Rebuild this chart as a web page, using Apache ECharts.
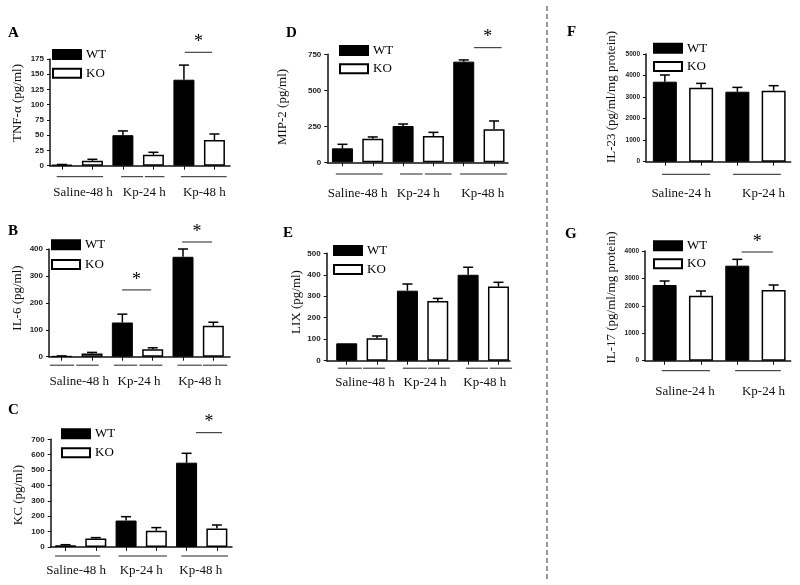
<!DOCTYPE html>
<html><head><meta charset="utf-8">
<script src="https://cdn.jsdelivr.net/npm/echarts@6/dist/echarts.min.js"></script>
<style>html,body{margin:0;padding:0;background:#fff}#c{width:800px;height:585px}</style>
</head><body><div id="c"></div>
<script>
// ---------- DATA ----------
const groups48 = ['Saline-48 h', 'Kp-24 h', 'Kp-48 h'];
const groups24 = ['Saline-24 h', 'Kp-24 h'];
const seriesNames = ['WT', 'KO'];

const tnfWT = [1.5, 50, 141];   const tnfWTErr = [0.5, 7, 24];
const tnfKO = [8, 18, 42];      const tnfKOErr = [2.5, 4, 10];
const tnfTicks = [0, 25, 50, 75, 100, 125, 150, 175];

const il6WT = [2, 127, 371];    const il6WTErr = [1, 31, 29];
const il6KO = [12, 28, 115];    const il6KOErr = [4, 5, 13];
const il6Ticks = [0, 100, 200, 300, 400];

const kcWT = [11, 172, 548];    const kcWTErr = [4, 25, 61];
const kcKO = [56, 106, 121];    const kcKOErr = [5, 20, 22];
const kcTicks = [0, 100, 200, 300, 400, 500, 600, 700];

const mipWT = [97, 252, 699];   const mipWTErr = [28, 14, 12];
const mipKO = [164, 183, 229];  const mipKOErr = [12, 25, 58];
const mipTicks = [0, 250, 500, 750];

const lixWT = [81, 326, 400];   const lixWTErr = [0, 31, 35];
const lixKO = [104, 278, 345];  const lixKOErr = [11, 12, 20];
const lixTicks = [0, 100, 200, 300, 400, 500];

const il23WT = [3715, 3250];    const il23WTErr = [310, 200];
const il23KO = [3436, 3297];    const il23KOErr = [200, 232];
const il23Ticks = [0, 1000, 2000, 3000, 4000, 5000];

const il17WT = [2760, 3465];    const il17WTErr = [146, 231];
const il17KO = [2371, 2577];    const il17KOErr = [170, 183];
const il17Ticks = [0, 1000, 2000, 3000, 4000];

// significance bars: [from, to, level]
const sigA = [[4.03, 4.92, 186]];
const sigB = [[1.99, 2.95, 248], [3.97, 4.96, 426]];
const sigC = [[4.31, 5.17, 743]];
const sigD = [[4.34, 5.25, 796]];
const sigE = [];
const sigF = [];
const sigG = [[2.12, 2.98, 3963]];

// ---------- LAYOUT ----------
const layout = {
  A: {grid:{left:50, top:59, width:180, height:106.7}, xr:[-0.39,5.51], letter:[8,33], yName:[18,103], leg:[52,48,5.7], lm:20, uo:11, bw:21, tf:8,
      under:[[-0.17,1.35],[1.94,2.66],[2.72,3.36],[3.9,5.4]], lab:[0.69,2.70,4.67]},
  B: {grid:{left:49, top:249, width:181, height:107.7}, xr:[-0.42,5.55], letter:[8,231.5], yName:[18,298], leg:[51,238.3,6.7], lm:18.5, uo:8.5, bw:21, tf:8,
      under:[[-0.39,0.41],[0.48,1.22],[1.72,2.49],[2.56,3.32],[3.82,4.62],[4.66,5.46]], lab:[0.58,2.55,4.55]},
  C: {grid:{left:50.7, top:439.3, width:181.3, height:107.7}, xr:[-0.49,5.5], letter:[8,410], yName:[19,495], leg:[61,427.3,6], lm:16.7, uo:9, bw:21, tf:8,
      under:[[-0.35,1.15],[1.75,3.35],[3.83,5.37]], lab:[0.35,2.5,4.47]},
  D: {grid:{left:327.3, top:54.3, width:180.7, height:108}, xr:[-0.5,5.46], letter:[286,33], yName:[283,107], leg:[339,44,5.3], lm:24.7, uo:11.7, bw:21, tf:8,
      under:[[-0.22,1.33],[1.9,2.64],[2.72,3.6],[3.88,5.43]], lab:[0.5,2.5,4.63]},
  E: {grid:{left:326.7, top:253.3, width:183.3, height:107.4}, xr:[-0.66,5.38], letter:[283,233], yName:[296.7,302], leg:[333,244,6], lm:15.6, uo:7.5, bw:21, tf:8,
      under:[[-0.29,0.5],[0.54,1.26],[1.85,2.64],[2.68,3.4],[3.93,4.65],[4.72,5.45]], lab:[0.6,2.58,4.55]},
  F: {grid:{left:646, top:54, width:144.7, height:107.7}, xr:[-0.52,3.47], letter:[567,32], yName:[611.7,97], leg:[653,41.7,5.3], lm:25.3, uo:12.6, bw:24, tf:6.5,
      under:[[-0.08,1.25],[1.88,3.2]], lab:[0.45,2.72]},
  G: {grid:{left:645, top:251, width:145.7, height:109.7}, xr:[-0.54,3.47], letter:[565,234], yName:[611.7,297.5], leg:[653,239.3,5], lm:24.3, uo:10, bw:24, tf:6.5,
      under:[[-0.08,1.25],[1.94,3.2]], lab:[0.56,2.72]}
};

const panels = [
  {key:'A', name:'TNF-α (pg/ml)', groups:groups48, wt:tnfWT, wtE:tnfWTErr, ko:tnfKO, koE:tnfKOErr, ticks:tnfTicks, sig:sigA},
  {key:'B', name:'IL-6 (pg/ml)', groups:groups48, wt:il6WT, wtE:il6WTErr, ko:il6KO, koE:il6KOErr, ticks:il6Ticks, sig:sigB},
  {key:'C', name:'KC (pg/ml)', groups:groups48, wt:kcWT, wtE:kcWTErr, ko:kcKO, koE:kcKOErr, ticks:kcTicks, sig:sigC},
  {key:'D', name:'MIP-2 (pg/ml)', groups:groups48, wt:mipWT, wtE:mipWTErr, ko:mipKO, koE:mipKOErr, ticks:mipTicks, sig:sigD},
  {key:'E', name:'LIX (pg/ml)', groups:groups48, wt:lixWT, wtE:lixWTErr, ko:lixKO, koE:lixKOErr, ticks:lixTicks, sig:sigE},
  {key:'F', name:'IL-23 (pg/ml/mg protein)', groups:groups24, wt:il23WT, wtE:il23WTErr, ko:il23KO, koE:il23KOErr, ticks:il23Ticks, sig:sigF},
  {key:'G', name:'IL-17 (pg/ml/mg protein)', groups:groups24, wt:il17WT, wtE:il17WTErr, ko:il17KO, koE:il17KOErr, ticks:il17Ticks, sig:sigG}
];

// ---------- BUILD ----------
const SERIF = 'Liberation Serif';
const grids = [], xAxes = [], yAxes = [], series = [], legends = [], graphics = [];

panels.forEach((p, i) => {
  const L = layout[p.key];
  const n = p.groups.length * 2;
  grids.push(Object.assign({containLabel:false}, L.grid));
  const tickPos = [];
  for (let k = 0; k < n; k++) tickPos.push(k);
  const labPos = L.lab;
  xAxes.push({
    type:'value', gridIndex:i, min:L.xr[0], max:L.xr[1],
    axisLine:{show:true, onZero:false, lineStyle:{color:'#111', width:1.5}},
    axisTick:{show:true, customValues:tickPos, length:4, lineStyle:{color:'#111', width:1}},
    splitLine:{show:false},
    axisLabel:{show:true, customValues:labPos, margin:L.lm, fontFamily:SERIF, fontSize:13, color:'#111',
      formatter:(v) => { let best = 0; labPos.forEach((q, j) => { if (Math.abs(q - v) < Math.abs(labPos[best] - v)) best = j; }); return p.groups[best]; }}
  });
  const tks = p.ticks;
  yAxes.push({
    type:'value', gridIndex:i, min:tks[0], max:tks[tks.length-1], interval:tks[1]-tks[0],
    axisLine:{show:true, onZero:false, lineStyle:{color:'#111', width:1.5}},
    axisTick:{show:true, length:3, lineStyle:{color:'#111', width:1}},
    splitLine:{show:false},
    axisLabel:{margin:6, fontFamily:'Liberation Sans', fontWeight:'bold', fontSize:L.tf, color:'#222', formatter:(v) => String(v)}
  });
  const wtData = p.wt.map((v, g) => [2*g, v]);
  const koData = p.ko.map((v, g) => [2*g+1, v]);
  series.push({name:'WT', type:'bar', xAxisIndex:i, yAxisIndex:i, data:wtData, barWidth:L.bw, barGap:'-100%',
    itemStyle:{color:'#000', borderColor:'#000', borderWidth:1}});
  series.push({name:'KO', type:'bar', xAxisIndex:i, yAxisIndex:i, data:koData, barWidth:L.bw, barGap:'-100%',
    itemStyle:{color:'#fff', borderColor:'#000', borderWidth:1.5}});
  // error bars
  const errData = [];
  p.wt.forEach((v, g) => errData.push([2*g, v, p.wtE[g]]));
  p.ko.forEach((v, g) => errData.push([2*g+1, v, p.koE[g]]));
  series.push({type:'custom', xAxisIndex:i, yAxisIndex:i, data:errData, encode:{x:0, y:1}, z:5, silent:true,
    renderItem:(params, api) => {
      const x = api.value(0), v = api.value(1), e = api.value(2);
      if (!(e > 0)) return null;
      const a = api.coord([x, v]), b = api.coord([x, v + e]);
      return {type:'group', children:[
        {type:'line', shape:{x1:a[0], y1:a[1], x2:b[0], y2:b[1]}, style:{stroke:'#000', lineWidth:1.5}},
        {type:'line', shape:{x1:b[0]-5, y1:b[1], x2:b[0]+5, y2:b[1]}, style:{stroke:'#000', lineWidth:1.5}}
      ]};
    }});
  // group underlines
  const uo = L.uo;
  series.push({type:'custom', xAxisIndex:i, yAxisIndex:i, data:L.under.map(s => [s[0], s[1], 0]), encode:{x:[0,1], y:2}, silent:true,
    renderItem:(params, api) => {
      const a = api.coord([api.value(0), 0]), b = api.coord([api.value(1), 0]);
      return {type:'line', shape:{x1:a[0], y1:a[1]+uo, x2:b[0], y2:b[1]+uo}, style:{stroke:'#222', lineWidth:1}};
    }});
  // significance
  if (p.sig.length) {
    series.push({type:'custom', xAxisIndex:i, yAxisIndex:i, data:p.sig, encode:{x:[0,1], y:2}, silent:true,
      renderItem:(params, api) => {
        const a = api.coord([api.value(0), api.value(2)]), b = api.coord([api.value(1), api.value(2)]);
        return {type:'group', children:[
          {type:'line', shape:{x1:a[0], y1:a[1], x2:b[0], y2:b[1]}, style:{stroke:'#222', lineWidth:1}},
          {type:'text', x:(a[0]+b[0])/2, y:a[1]-10, style:{text:'*', font:'18px ' + SERIF, fill:'#000', align:'center', verticalAlign:'middle'}}
        ]};
      }});
  }
  legends.push({left:L.leg[0], top:L.leg[1], orient:'vertical', padding:0, itemGap:L.leg[2], itemWidth:28, itemHeight:9,
    icon:'rect', selectedMode:false, data:seriesNames,
    textStyle:{fontFamily:SERIF, fontSize:13, color:'#000', lineHeight:9}});
  graphics.push({type:'text', x:L.letter[0], y:L.letter[1], style:{text:p.key, font:'bold 15px ' + SERIF, fill:'#000', verticalAlign:'middle'}});
  graphics.push({type:'text', x:L.yName[0], y:L.yName[1], rotation:Math.PI/2,
    style:{text:p.name, font:'13px ' + SERIF, fill:'#111', align:'center', verticalAlign:'middle'}});
});
graphics.push({type:'line', shape:{x1:547, y1:6, x2:547, y2:580}, style:{stroke:'#333', lineWidth:1, lineDash:[5,3]}});

const chart = echarts.init(document.getElementById('c'), null, {renderer:'canvas'});
chart.setOption({
  animation:false, backgroundColor:'#fff',
  grid:grids, xAxis:xAxes, yAxis:yAxes, series:series, legend:legends, graphic:graphics
});
</script></body></html>
